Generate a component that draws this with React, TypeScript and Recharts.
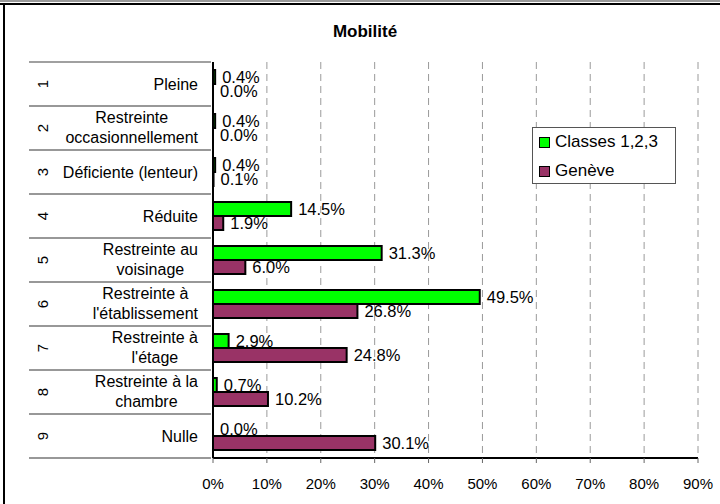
import React from "react";
import {
  BarChart,
  Bar,
  XAxis,
  YAxis,
  CartesianGrid,
  Legend,
  LabelList,
} from "recharts";

const categoryNumbers = ["1", "2", "3", "4", "5", "6", "7", "8", "9"];
const categoryLabels = [
  ["Pleine"],
  ["Restreinte", "occasionnellement"],
  ["Déficiente (lenteur)"],
  ["Réduite"],
  ["Restreinte au", "voisinage"],
  ["Restreinte à", "l'établissement"],
  ["Restreinte à", "l'étage"],
  ["Restreinte à la", "chambre"],
  ["Nulle"],
];
const classesValues = [0.4, 0.4, 0.4, 14.5, 31.3, 49.5, 2.9, 0.7, 0.0];
const geneveValues = [0.0, 0.0, 0.1, 1.9, 6.0, 26.8, 24.8, 10.2, 30.1];
const xTicks = [0, 10, 20, 30, 40, 50, 60, 70, 80, 90];
const seriesNames = ["Classes 1,2,3", "Genève"];
const seriesColors = ["#00FF00", "#993366"];

const data = categoryNumbers.map((n, i) => ({
  name: n,
  classes: classesValues[i],
  geneve: geneveValues[i],
}));

const FONT = "'Liberation Sans', Arial, sans-serif";

let measureCtx: CanvasRenderingContext2D | null = null;
function measure(text: string, size: number): number {
  if (!measureCtx) {
    const c = document.createElement("canvas");
    measureCtx = c.getContext("2d");
  }
  if (!measureCtx) return text.length * size * 0.5;
  measureCtx.font = `${size}px ${FONT}`;
  return measureCtx.measureText(text).width;
}

const HALF_BAND = 22;

const CategoryTick = (props: any) => {
  const { x, y, payload, index } = props;
  const idx = categoryNumbers.indexOf(String(payload.value));
  const lines = categoryLabels[idx] || [];
  const right = x - 13;
  const fs = 16;
  let textEls: React.ReactNode;
  if (lines.length === 1) {
    textEls = (
      <text x={right} y={y} textAnchor="end" dominantBaseline="central" fontSize={fs} fontFamily={FONT} fill="#000">
        {lines[0]}
      </text>
    );
  } else {
    const maxW = Math.max(...lines.map((l) => measure(l, fs)));
    const cx = right - maxW / 2;
    textEls = lines.map((l, k) => (
      <text
        key={k}
        x={cx}
        y={y - 1 + (k - (lines.length - 1) / 2) * 20}
        textAnchor="middle"
        dominantBaseline="central"
        fontSize={fs}
        fontFamily={FONT}
        fill="#000"
      >
        {l}
      </text>
    ));
  }
  return (
    <g>
      {index === 0 && (
        <line x1={29} x2={x} y1={y - HALF_BAND} y2={y - HALF_BAND} stroke="#808080" strokeWidth={1.5} />
      )}
      <line x1={29} x2={x} y1={y + HALF_BAND} y2={y + HALF_BAND} stroke="#333" strokeWidth={1.2} />
      <text
        x={42}
        y={y}
        textAnchor="middle"
        dominantBaseline="central"
        fontSize={15}
        fontFamily={FONT}
        fill="#000"
        transform={`rotate(-90 42 ${y})`}
      >
        {payload.value}
      </text>
      {textEls}
    </g>
  );
};

const LegendContent = () => (
  <div
    style={{
      width: 144,
      height: 57,
      boxSizing: "border-box",
      border: "1px solid #555",
      background: "#fff",
      fontFamily: FONT,
      fontSize: 17,
      color: "#000",
      position: "relative",
    }}
  >
    {seriesNames.map((n, i) => (
      <div
        key={n}
        style={{
          position: "absolute",
          left: 6,
          top: 4 + i * 29,
          height: 20,
          display: "flex",
          alignItems: "center",
          whiteSpace: "nowrap",
        }}
      >
        <span
          style={{
            display: "inline-block",
            width: 11,
            height: 11,
            boxSizing: "border-box",
            border: "1.5px solid #000",
            background: seriesColors[i],
            marginRight: 5,
          }}
        />
        <span>{n}</span>
      </div>
    ))}
  </div>
);

const fmt = (v: any) => `${Number(v).toFixed(1)}%`;
const minSize = (v: any) => (Number(v) === 0 ? 0.01 : 0);

export default function App() {
  return (
    <div style={{ position: "absolute", left: 0, top: 0, width: 720, height: 504, background: "#fff" }}>
      <div style={{ position: "absolute", left: 0, top: 0, width: 720, height: 2, background: "#9a9a9a" }} />
      <div style={{ position: "absolute", left: 0, top: 3, width: 720, height: 2, background: "#000" }} />
      <div style={{ position: "absolute", left: 3, top: 3, width: 2, height: 501, background: "#000" }} />
      <div
        style={{
          position: "absolute",
          left: 0,
          width: 720,
          top: 22,
          textAlign: "center",
          paddingLeft: 10,
          boxSizing: "border-box",
          fontFamily: FONT,
          fontWeight: "bold",
          fontSize: 17,
          color: "#000",
        }}
      >
        Mobilité
      </div>
      <BarChart
        width={720}
        height={504}
        data={data}
        layout="vertical"
        margin={{ top: 62, right: 22, bottom: 0, left: 0 }}
        barGap={0}
        style={{ position: "absolute", left: 0, top: 0 }}
      >
        <CartesianGrid horizontal={false} stroke="#9a9a9a" strokeDasharray="7 5" />
        <XAxis
          type="number"
          domain={[0, 90]}
          ticks={xTicks}
          tickFormatter={(v: any) => `${v}%`}
          axisLine={{ stroke: "#000", strokeWidth: 2 }}
          tickLine={{ stroke: "#666" }}
          tickSize={5}
          tickMargin={15}
          height={46}
          tick={{ fontSize: 15, fontFamily: FONT, fill: "#000" }}
          interval={0}
          allowDataOverflow
        />
        <XAxis
          xAxisId="top"
          orientation="top"
          type="number"
          domain={[0, 90]}
          height={0}
          tick={false}
          tickLine={false}
          axisLine={{ stroke: "#000", strokeWidth: 2 }}
        />
        <YAxis
          type="category"
          dataKey="name"
          width={213}
          axisLine={{ stroke: "#000", strokeWidth: 2 }}
          tickLine={false}
          tickSize={0}
          tick={<CategoryTick />}
          interval={0}
        />
        <YAxis
          yAxisId="right"
          orientation="right"
          type="category"
          dataKey="name"
          width={0}
          tick={false}
          tickLine={false}
          axisLine={{ stroke: "#000", strokeWidth: 2 }}
        />
        <Legend
          content={<LegendContent />}
          layout="vertical"
          align="center"
          verticalAlign="middle"
          wrapperStyle={{ position: "absolute", left: 532, top: 127, width: 144, height: 57 }}
        />
        <Bar
          dataKey="classes"
          name={seriesNames[0]}
          fill={seriesColors[0]}
          stroke="#000"
          strokeWidth={2}
          barSize={14}
          minPointSize={minSize}
          isAnimationActive={false}
        >
          <LabelList
            dataKey="classes"
            position="right"
            offset={7}
            formatter={fmt}
            style={{ fontSize: 16.5, fontFamily: FONT, fill: "#000" }}
          />
        </Bar>
        <Bar
          dataKey="geneve"
          name={seriesNames[1]}
          fill={seriesColors[1]}
          stroke="#000"
          strokeWidth={2}
          barSize={14}
          minPointSize={minSize}
          isAnimationActive={false}
        >
          <LabelList
            dataKey="geneve"
            position="right"
            offset={7}
            formatter={fmt}
            style={{ fontSize: 16.5, fontFamily: FONT, fill: "#000" }}
          />
        </Bar>
      </BarChart>
    </div>
  );
}
